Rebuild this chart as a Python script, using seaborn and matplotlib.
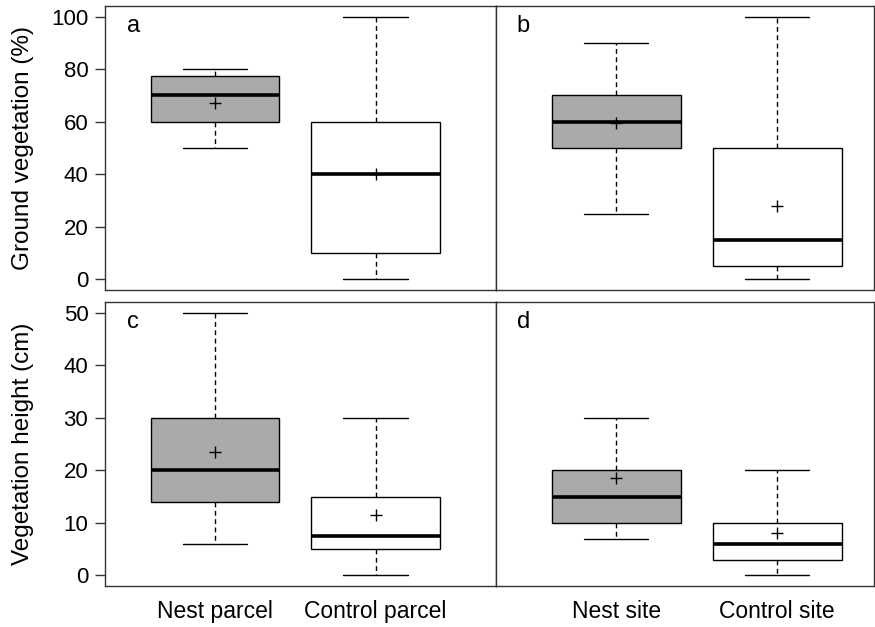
"""Ground vegetation and vegetation height at nest vs control locations."""
import matplotlib

matplotlib.use("Agg")
import matplotlib.pyplot as plt
import numpy as np
import pandas as pd
import seaborn as sns

# five-number summaries (min, q1, median, q3, max)
parcel_labels = ["Nest parcel", "Control parcel"]
site_labels = ["Nest site", "Control site"]

ground_parcel_nest = [50, 60, 70, 77.5, 80]
ground_parcel_control = [0, 10, 40, 60, 100]
ground_parcel_means = [67, 40]

ground_site_nest = [25, 50, 60, 70, 90]
ground_site_control = [0, 5, 15, 50, 100]
ground_site_means = [59.5, 28]

height_parcel_nest = [6, 14, 20, 30, 50]
height_parcel_control = [0, 5, 7.5, 15, 30]
height_parcel_means = [23.5, 11.5]

height_site_nest = [7, 10, 15, 20, 30]
height_site_control = [0, 3, 6, 10, 20]
height_site_means = [18.5, 8]

GREY = "#aaaaaa"
FS = 16

sns.set_style("ticks")
plt.rcParams["font.family"] = ["Liberation Sans", "DejaVu Sans"]
plt.rcParams.update({"text.color": "black", "axes.labelcolor": "black",
                     "xtick.color": "black", "ytick.color": "black"})


def draw_panel(ax, labels, nest, control, means, letter):
    df = pd.DataFrame({
        "group": [labels[0]] * len(nest) + [labels[1]] * len(control),
        "value": nest + control,
    })
    sns.boxplot(
        data=df, x="group", y="value", hue="group", palette=[GREY, "white"],
        whis=(0, 100), width=0.8, linecolor="black", linewidth=1,
        showfliers=False, legend=False, ax=ax,
        medianprops={"linewidth": 2.6},
        whiskerprops={"linestyle": (0, (3.5, 2.5))},
    )
    sns.scatterplot(x=np.arange(len(labels)), y=means, marker="+", color="black",
                    s=70, linewidth=1, ax=ax, zorder=5)
    ax.text(0.055, 0.93, letter, transform=ax.transAxes, fontsize=17,
            ha="left", va="center")
    ax.set_xlabel("")
    ax.set_ylabel("")
    for sp in ax.spines.values():
        sp.set_visible(True)
        sp.set_linewidth(1)
        sp.set_color("#333333")
    ax.tick_params(axis="x", length=0, pad=10, labelsize=16.5)
    ax.tick_params(axis="y", length=7.5, width=1, pad=4.5, labelsize=FS,
                   color="#333333")


fig = plt.figure(figsize=(8.75, 6.27), dpi=100)
left, mid, right = 0.12, 0.567, 0.999
top_row = (0.5375, 0.9904)
bot_row = (0.0654, 0.5183)

ax_a = fig.add_axes([left, top_row[0], mid - left, top_row[1] - top_row[0]])
ax_b = fig.add_axes([mid, top_row[0], right - mid, top_row[1] - top_row[0]])
ax_c = fig.add_axes([left, bot_row[0], mid - left, bot_row[1] - bot_row[0]])
ax_d = fig.add_axes([mid, bot_row[0], right - mid, bot_row[1] - bot_row[0]])

draw_panel(ax_a, parcel_labels, ground_parcel_nest, ground_parcel_control,
           ground_parcel_means, "a")
draw_panel(ax_b, site_labels, ground_site_nest, ground_site_control,
           ground_site_means, "b")
draw_panel(ax_c, parcel_labels, height_parcel_nest, height_parcel_control,
           height_parcel_means, "c")
draw_panel(ax_d, site_labels, height_site_nest, height_site_control,
           height_site_means, "d")

for ax in (ax_a, ax_b):
    ax.set_ylim(-4, 104)
    ax.set_yticks(np.arange(0, 101, 20))
    ax.tick_params(axis="x", labelbottom=False)
for ax in (ax_c, ax_d):
    ax.set_ylim(-2, 52)
    ax.set_yticks(np.arange(0, 51, 10))
for ax in (ax_a, ax_c):
    ax.set_xlim(-0.685, 1.751)
for ax in (ax_b, ax_d):
    ax.set_xlim(-0.745, 1.602)
    ax.tick_params(axis="y", left=False, labelleft=False)

ax_a.set_ylabel("Ground vegetation (%)", fontsize=17.5)
ax_c.set_ylabel("Vegetation height (cm)", fontsize=17.5)
ax_a.yaxis.set_label_coords(-0.182, 0.5)
ax_c.yaxis.set_label_coords(-0.182, 0.5)

fig.savefig("out.png", dpi=100)
plt.close(fig)
